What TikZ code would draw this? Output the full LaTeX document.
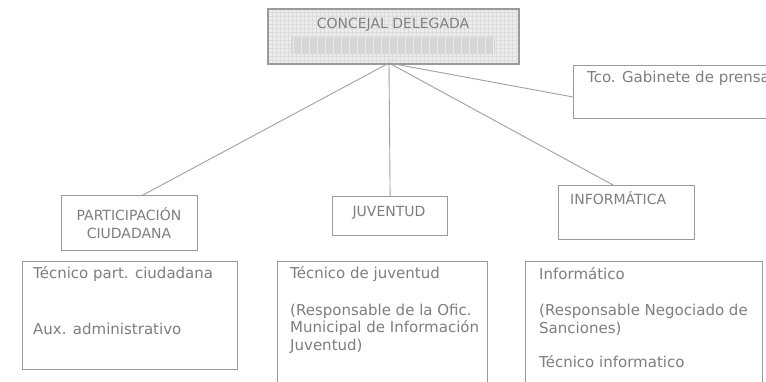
\documentclass[tikz,border=0pt]{standalone}
\usepackage{fontspec}
\setmainfont{DejaVu Sans}
\begin{document}
\begin{tikzpicture}[x=1pt,y=-1pt,
  boxline/.style={draw=boxgray,line width=1.2pt},
  conn/.style={draw=linegray,line width=0.9pt},
  hdr/.style={text=txtgray,font=\fontsize{14}{16}\selectfont,inner sep=0pt},
  body/.style={text=txtgray,font=\fontsize{15}{18}\selectfont,inner sep=0pt,anchor=mid west}]
\definecolor{boxgray}{HTML}{9A9A9A}
\definecolor{linegray}{HTML}{A0A0A0}
\definecolor{txtgray}{HTML}{7E7E7E}
\definecolor{gridfill}{HTML}{ECECEC}
\definecolor{gridln}{HTML}{DCDCDC}
\definecolor{barfill}{HTML}{D6D6D6}
\useasboundingbox (0,0) rectangle (766,382);
\clip (0,0) rectangle (766,382);
\fill[white] (0,0) rectangle (766,382);
% top box
\node[boxline,fill=gridfill,minimum width=250pt,minimum height=54pt,anchor=north west,inner sep=0pt] (top) at (268,9) {};
\draw[gridln,line width=0.4pt] (269,10) grid[step=4pt] (517,62);
\fill[barfill] (291,37) rectangle (495,54);
\foreach \i in {0,...,25}{\draw[white,opacity=0.5,line width=0.6pt] (293+\i*8,37) -- (293+\i*8,54);}
\draw[boxline,fill=none] (top.north west) rectangle (top.south east);
\node[hdr,text=gray] (toptext) at (393,25) {CONCEJAL DELEGADA};
\coordinate (apex) at (389,63);
% press box
\node[boxline,minimum width=220pt,minimum height=53pt,anchor=north west,inner sep=0pt] (press) at (573,65) {};
\node[hdr,anchor=mid west,font=\fontsize{15}{18}\selectfont] (presstext) at (587,80) {Tco. Gabinete de prensa};
% second level
\node[boxline,minimum width=136pt,minimum height=55pt,anchor=north west,inner sep=0pt] (part) at (61,195) {};
\node[hdr,align=center] (parttext) at (129,223) {PARTICIPACIÓN\\[2pt]CIUDADANA};
\node[boxline,minimum width=115pt,minimum height=39pt,anchor=north west,inner sep=0pt] (juv) at (332,196) {};
\node[hdr] (juvtext) at (389,213) {JUVENTUD};
\node[boxline,minimum width=136pt,minimum height=54pt,anchor=north west,inner sep=0pt] (inf) at (558,185) {};
\node[hdr,anchor=mid west] (inftext) at (570,202) {INFORMÁTICA};
% connectors
\draw[conn] (apex) -- (part.north -| 143,0);
\draw[conn] (apex) -- (juv.north);
\draw[conn] (apex) -- (inf.north -| 613,0);
\draw[conn] (apex) -- (press.west |- 0,97);
% bottom boxes
\node[boxline,minimum width=215pt,minimum height=108pt,anchor=north west,inner sep=0pt] (b1) at (22,261) {};
\node[body] (b1a) at (33,276) {Técnico part. ciudadana};
\node[body] (b1b) at (33,332) {Aux. administrativo};
\node[boxline,minimum width=210pt,minimum height=140pt,anchor=north west,inner sep=0pt] (b2) at (277,261) {};
\node[body] (b2a) at (290,276) {Técnico de juventud};
\node[body] (b2b) at (290,313) {(Responsable de la Ofic.};
\node[body] (b2c) at (290,330) {Municipal de Información};
\node[body] (b2d) at (290,348) {Juventud)};
\node[boxline,minimum width=237pt,minimum height=140pt,anchor=north west,inner sep=0pt] (b3) at (525,261) {};
\node[body] (b3a) at (539,277) {Informático};
\node[body] (b3b) at (539,313) {(Responsable Negociado de};
\node[body] (b3c) at (539,331) {Sanciones)};
\node[body] (b3d) at (539,365) {Técnico informatico};
\end{tikzpicture}
\end{document}
